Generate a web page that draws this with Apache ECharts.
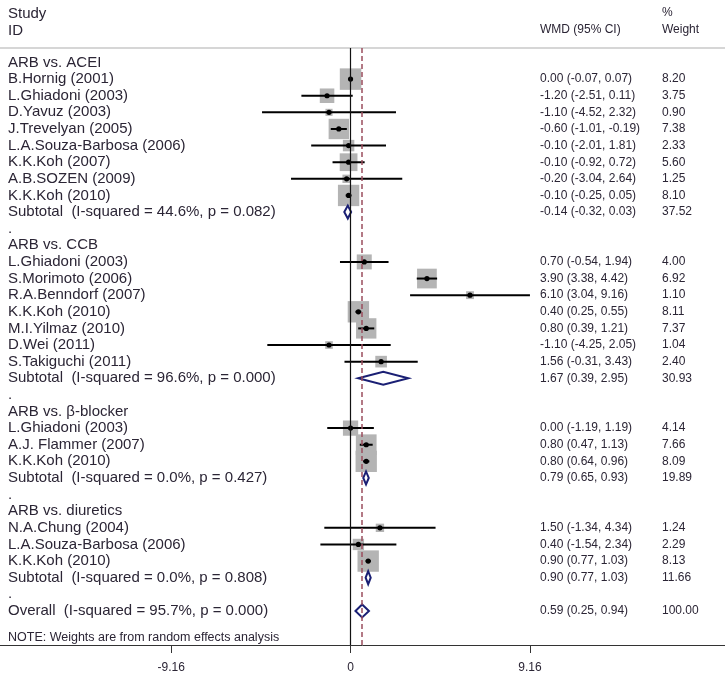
<!DOCTYPE html>
<html><head><meta charset="utf-8">
<script src="https://cdn.jsdelivr.net/npm/echarts@6/dist/echarts.min.js"></script>
<style>html,body{margin:0;padding:0;background:#fff}#c{width:725px;height:676px}</style>
</head><body><div id="c"></div>
<script>
// ---- data ----
const labels = [
  "ARB vs. ACEI",
  "B.Hornig (2001)", "L.Ghiadoni (2003)", "D.Yavuz (2003)", "J.Trevelyan (2005)",
  "L.A.Souza-Barbosa (2006)", "K.K.Koh (2007)", "A.B.SOZEN (2009)", "K.K.Koh (2010)",
  "Subtotal  (I-squared = 44.6%, p = 0.082)",
  ".",
  "ARB vs. CCB",
  "L.Ghiadoni (2003)", "S.Morimoto (2006)", "R.A.Benndorf (2007)", "K.K.Koh (2010)",
  "M.I.Yilmaz (2010)", "D.Wei (2011)", "S.Takiguchi (2011)",
  "Subtotal  (I-squared = 96.6%, p = 0.000)",
  ".",
  "ARB vs. \u03b2-blocker",
  "L.Ghiadoni (2003)", "A.J. Flammer (2007)", "K.K.Koh (2010)",
  "Subtotal  (I-squared = 0.0%, p = 0.427)",
  ".",
  "ARB vs. diuretics",
  "N.A.Chung (2004)", "L.A.Souza-Barbosa (2006)", "K.K.Koh (2010)",
  "Subtotal  (I-squared = 0.0%, p = 0.808)",
  ".",
  "Overall  (I-squared = 95.7%, p = 0.000)"
];
// g = group header, s = study, t = subtotal, b = blank, o = overall
const kinds = ["g","s","s","s","s","s","s","s","s","t","b",
               "g","s","s","s","s","s","s","s","t","b",
               "g","s","s","s","t","b",
               "g","s","s","s","t","b","o"];
const est = [null, 0.00,-1.20,-1.10,-0.60,-0.10,-0.10,-0.20,-0.10,-0.14,null,
             null, 0.70,3.90,6.10,0.40,0.80,-1.10,1.56,1.67,null,
             null, 0.00,0.80,0.80,0.79,null,
             null, 1.50,0.40,0.90,0.90,null, 0.59];
const lower = [null,-0.07,-2.51,-4.52,-1.01,-2.01,-0.92,-3.04,-0.25,-0.32,null,
               null,-0.54,3.38,3.04,0.25,0.39,-4.25,-0.31,0.39,null,
               null,-1.19,0.47,0.64,0.65,null,
               null,-1.34,-1.54,0.77,0.77,null, 0.25];
const upper = [null,0.07,0.11,2.32,-0.19,1.81,0.72,2.64,0.05,0.03,null,
               null,1.94,4.42,9.16,0.55,1.21,2.05,3.43,2.95,null,
               null,1.19,1.13,0.96,0.93,null,
               null,4.34,2.34,1.03,1.03,null, 0.94];
const weights = [null,8.20,3.75,0.90,7.38,2.33,5.60,1.25,8.10,37.52,null,
                 null,4.00,6.92,1.10,8.11,7.37,1.04,2.40,30.93,null,
                 null,4.14,7.66,8.09,19.89,null,
                 null,1.24,2.29,8.13,11.66,null, 100.00];
const xTicks = [-9.16, 0, 9.16];
const overallEffect = 0.59;
const headerLeft = ["Study", "ID"];
const headerCI = "WMD (95% CI)";
const headerW = ["%", "Weight"];
const noteText = "NOTE: Weights are from random effects analysis";

// ---- derived ----
const FONT = "Liberation Sans, Arial, sans-serif";
const TXT = "#2b2535";
const studyData = [], ciData = [], diamondData = [], textData = [];
labels.forEach((l, i) => {
  textData.push([0, i]);
  if (kinds[i] === "s") {
    studyData.push([est[i], i, weights[i]]);
    ciData.push([lower[i], upper[i], i, est[i]]);
  } else if (kinds[i] === "t" || kinds[i] === "o") {
    diamondData.push([lower[i], upper[i], i, est[i]]);
  }
});
const f2 = v => v.toFixed(2);

const chart = echarts.init(document.getElementById("c"), null, {renderer: "canvas"});
const xMin = -17.9, xMax = 19.12;
chart.setOption({
  animation: false,
  grid: {left: 0, right: 0, top: 48, height: 597},
  xAxis: [{
    type: "value", min: xMin, max: xMax, position: "bottom",
    splitLine: {show: false},
    axisLine: {onZero: false, lineStyle: {color: "#333", width: 1}},
    axisTick: {customValues: xTicks, length: 8, lineStyle: {color: "#333"}},
    axisLabel: {customValues: xTicks, margin: 17, color: TXT, fontSize: 12, fontFamily: FONT,
      formatter: v => (Math.abs(v) < 1e-9 ? "0" : v.toFixed(2))}
  }, {
    type: "value", min: xMin, max: xMax, position: "top",
    splitLine: {show: false},
    axisLine: {show: true, onZero: false, lineStyle: {color: "#c8c8c8", width: 1.5}},
    axisTick: {show: false}, axisLabel: {show: false}
  }],
  yAxis: {type: "value", inverse: true, min: -0.872, max: 35.05, show: false},
  graphic: [
    {type: "text", left: 8, top: 6, style: {text: headerLeft[0], font: "15px " + FONT, fill: TXT}},
    {type: "text", left: 8, top: 23, style: {text: headerLeft[1], font: "15px " + FONT, fill: TXT}},
    {type: "text", left: 540, top: 24, style: {text: headerCI, font: "12px " + FONT, fill: TXT}},
    {type: "text", left: 662, top: 7, style: {text: headerW[0], font: "12px " + FONT, fill: TXT}},
    {type: "text", left: 662, top: 24, style: {text: headerW[1], font: "12px " + FONT, fill: TXT}},
    {type: "text", left: 8, top: 631, style: {text: noteText, font: "12.5px " + FONT, fill: TXT}}
  ],
  series: [
    { // reference lines
      type: "line", data: [], z: 1, silent: true,
      markLine: {
        symbol: "none", label: {show: false}, silent: true, animation: false,
        data: [
          {xAxis: 0, lineStyle: {color: "#111", width: 1.2, type: "solid"}},
          {xAxis: overallEffect, lineStyle: {color: "#9b4d5e", width: 1.5, type: [5, 3]}}
        ]
      }
    },
    { // weight boxes
      type: "custom", z: 2, data: studyData, encode: {x: 0, y: 1},
      renderItem: (p, api) => {
        const c = api.coord([api.value(0), api.value(1)]);
        const s = 7.5 * Math.sqrt(api.value(2));
        return {type: "rect", shape: {x: c[0] - s / 2, y: c[1] - s / 2, width: s, height: s},
                style: {fill: "#b4b4b4"}};
      }
    },
    { // CI lines + point
      type: "custom", z: 3, data: ciData, encode: {x: [0, 1], y: 2},
      renderItem: (p, api) => {
        const a = api.coord([api.value(0), api.value(2)]);
        const b = api.coord([api.value(1), api.value(2)]);
        const m = api.coord([api.value(3), api.value(2)]);
        return {type: "group", children: [
          {type: "line", shape: {x1: a[0], y1: a[1], x2: b[0], y2: b[1]}, style: {stroke: "#000", lineWidth: 2}},
          {type: "circle", shape: {cx: m[0], cy: m[1], r: 2.6}, style: {fill: "#000"}}
        ]};
      }
    },
    { // diamonds
      type: "custom", z: 4, data: diamondData, encode: {x: [0, 1], y: 2},
      renderItem: (p, api) => {
        const y = api.value(2);
        const a = api.coord([api.value(0), y]);
        const b = api.coord([api.value(1), y]);
        const m = api.coord([api.value(3), y]);
        const h = 6.5;
        return {type: "polygon",
          shape: {points: [[a[0], a[1]], [m[0], m[1] - h], [b[0], b[1]], [m[0], m[1] + h]]},
          style: {fill: "#fff", stroke: "#1a1f74", lineWidth: 2}};
      }
    },
    { // text columns
      type: "custom", z: 5, data: textData, encode: {x: 0, y: 1}, clip: false,
      renderItem: (p, api) => {
        const i = api.value(1);
        const y = api.coord([0, i])[1];
        const kids = [{type: "text", style: {x: 8, y: y, text: labels[i], fill: TXT,
          font: "15px " + FONT, align: "left", verticalAlign: "middle"}}];
        if (est[i] !== null) {
          kids.push({type: "text", style: {x: 540, y: y, text: f2(est[i]) + " (" + f2(lower[i]) + ", " + f2(upper[i]) + ")",
            fill: TXT, font: "12px " + FONT, align: "left", verticalAlign: "middle"}});
          kids.push({type: "text", style: {x: 662, y: y, text: f2(weights[i]),
            fill: TXT, font: "12px " + FONT, align: "left", verticalAlign: "middle"}});
        }
        return {type: "group", children: kids};
      }
    }
  ]
});
</script></body></html>
